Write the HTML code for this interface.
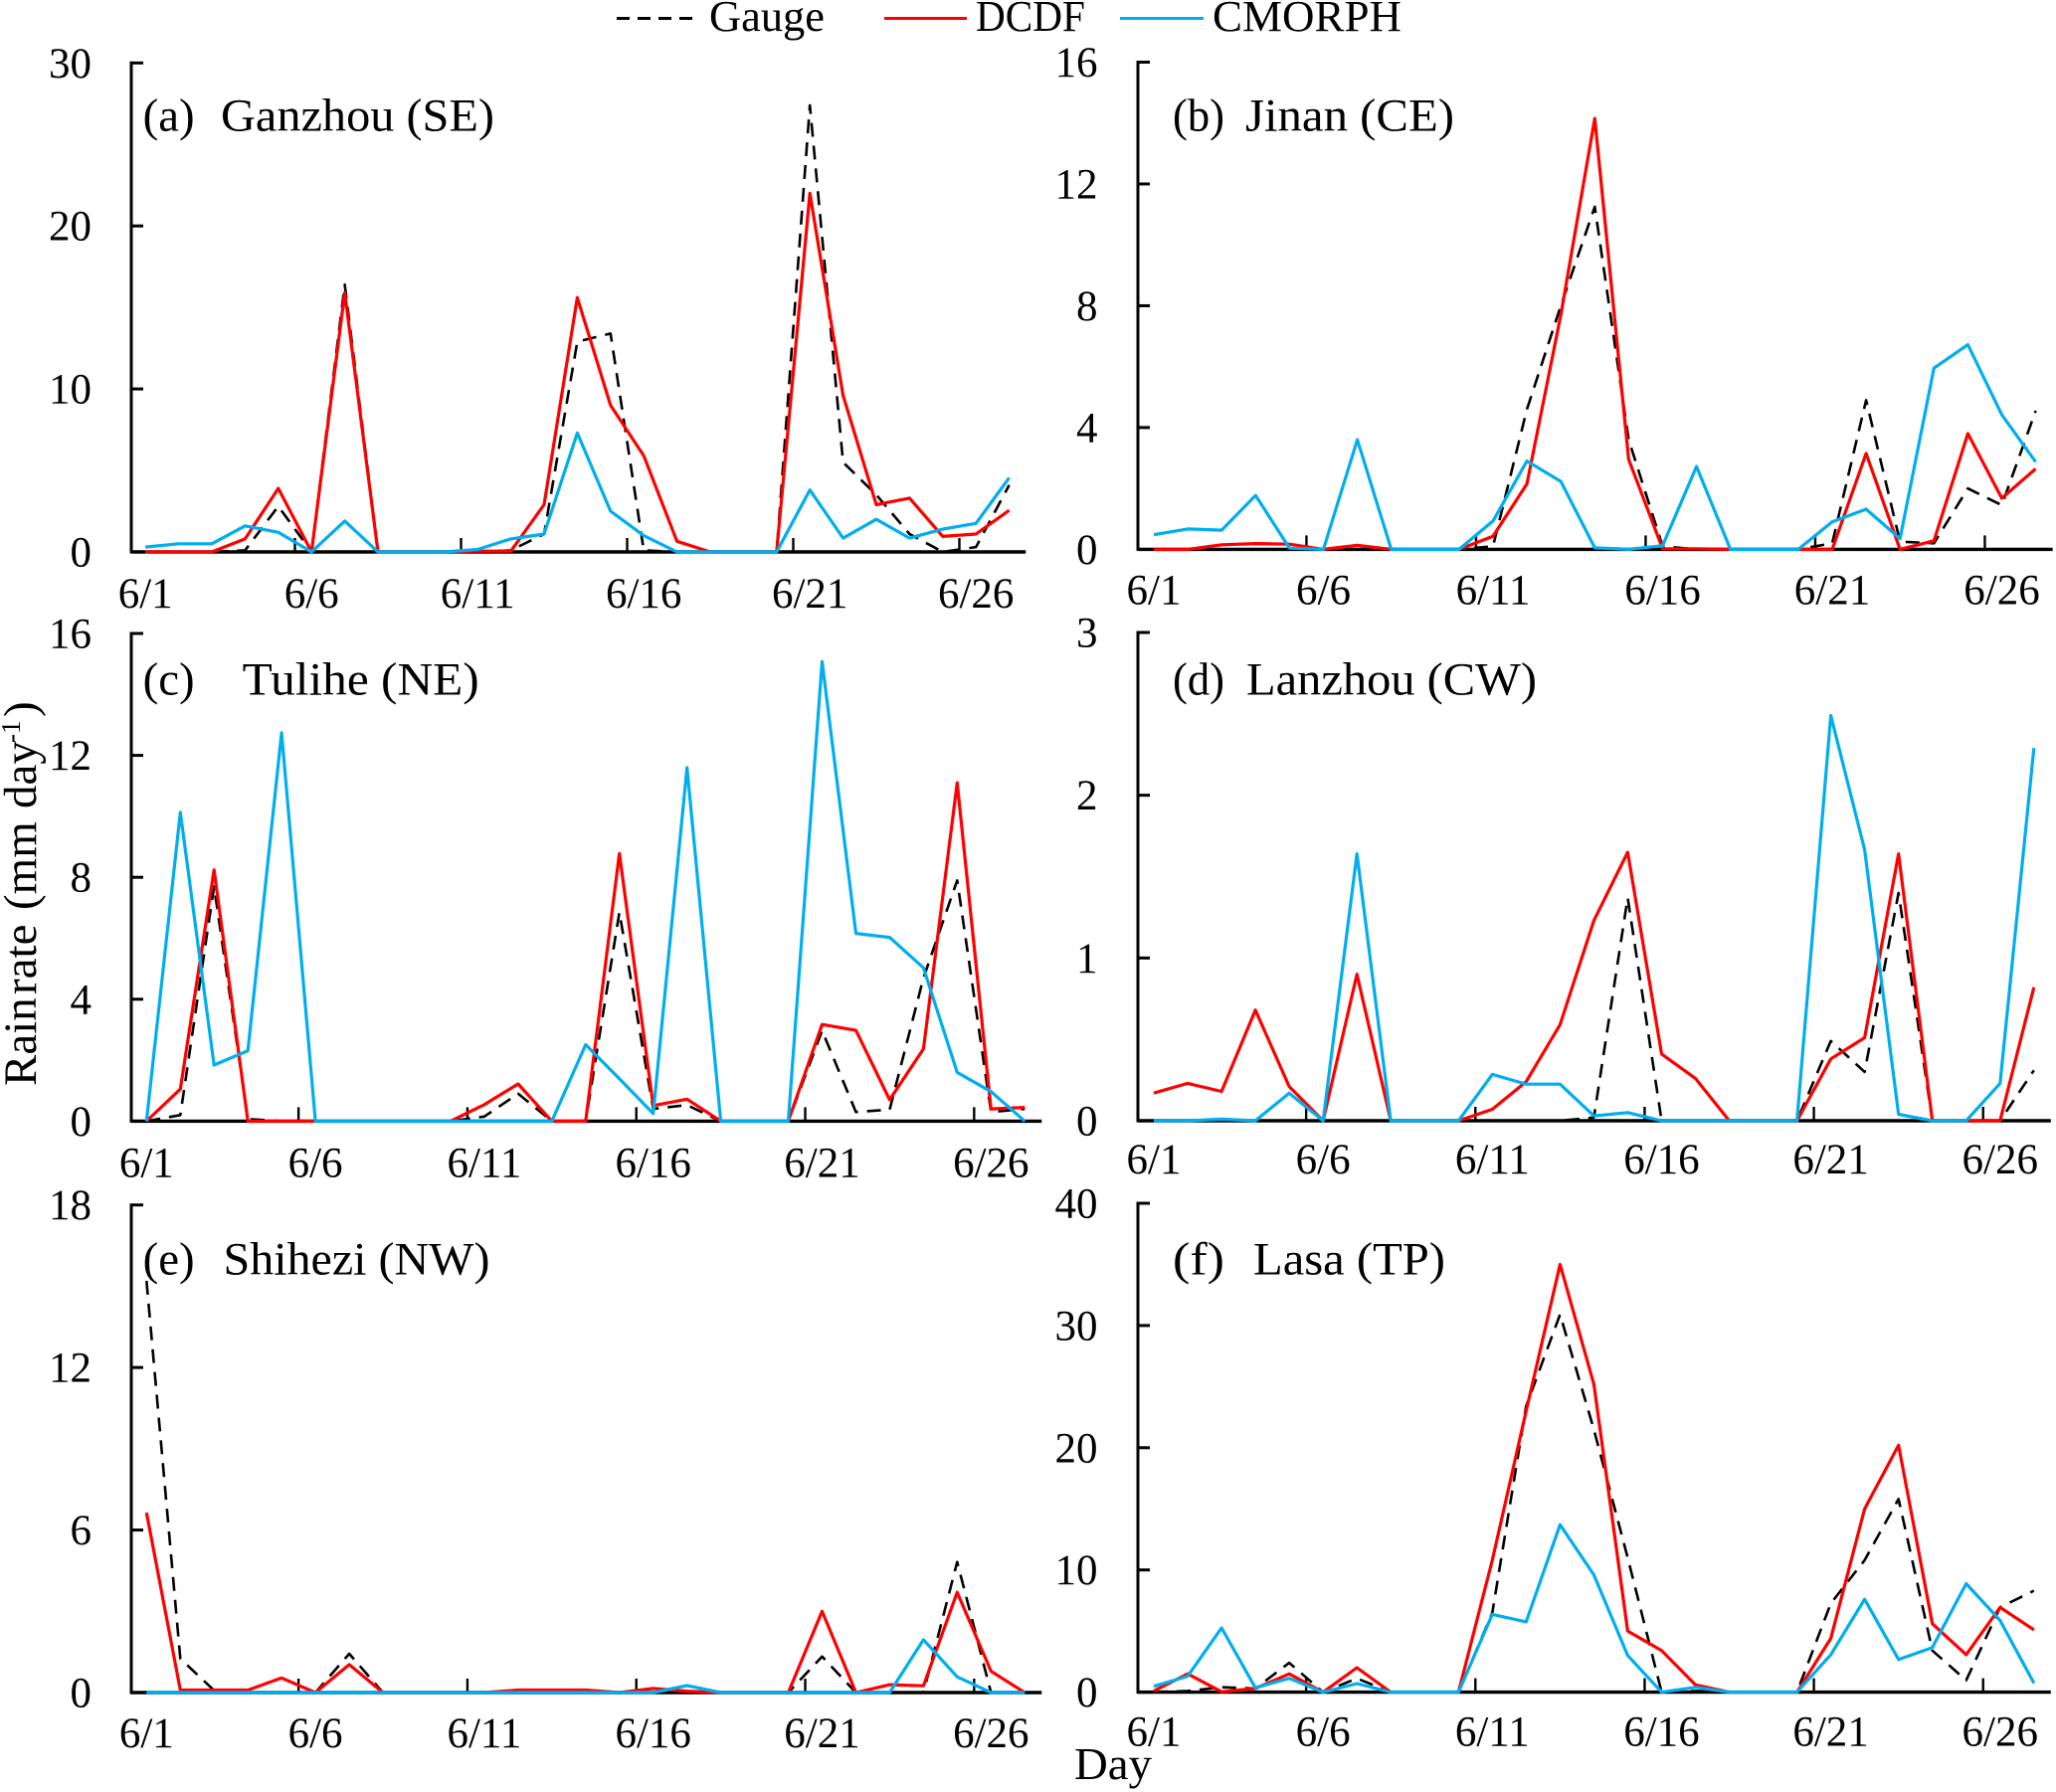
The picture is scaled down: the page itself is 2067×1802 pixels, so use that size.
<!DOCTYPE html>
<html lang="en">
<head>
<meta charset="utf-8">
<title>Daily rain rate at six stations</title>
<style>
  html, body { margin: 0; padding: 0; background: #ffffff; }
  svg { display: block; }
  text { font-family: "Liberation Serif", "Times New Roman", serif; fill: #000000; }
</style>
</head>
<body>
<svg id="chart" xmlns="http://www.w3.org/2000/svg" width="2067" height="1802" viewBox="0 0 2067 1802">
  <rect x="0" y="0" width="2067" height="1802" fill="#ffffff"/>
  <g id="panels"></g>

  <g>
    <g>
      <line x1="620" y1="18.5" x2="697" y2="18.5" stroke="#000000" stroke-width="3" stroke-dasharray="13 8"/>
      <text x="713" y="31" font-size="44" textLength="116" lengthAdjust="spacingAndGlyphs">Gauge</text>
    </g>
    <g>
      <line x1="889" y1="18.5" x2="972" y2="18.5" stroke="#ff0000" stroke-width="3"/>
      <text x="981" y="31" font-size="44" textLength="110" lengthAdjust="spacingAndGlyphs">DCDF</text>
    </g>
    <g>
      <line x1="1126" y1="18.5" x2="1210" y2="18.5" stroke="#00aeef" stroke-width="3"/>
      <text x="1219" y="31" font-size="44" textLength="190" lengthAdjust="spacingAndGlyphs">CMORPH</text>
    </g>
  </g>

  <g>
    <text transform="translate(36 1092) rotate(-90)" font-size="47"><tspan x="0">Rain </tspan><tspan x="92">rate </tspan><tspan x="177">(mm </tspan><tspan x="279">day</tspan></text>
    <text transform="translate(20 747) rotate(-90)" font-size="27">-1</text>
    <text transform="translate(36 721) rotate(-90)" font-size="47">)</text>
  </g>
  <text x="1080" y="1789" font-size="46" textLength="78" lengthAdjust="spacingAndGlyphs">Day</text>
</svg>

<script>
// Shared category and tick data
const days = ['6/1','6/2','6/3','6/4','6/5','6/6','6/7','6/8','6/9','6/10','6/11','6/12','6/13','6/14','6/15','6/16','6/17','6/18','6/19','6/20','6/21','6/22','6/23','6/24','6/25','6/26','6/27'];
const xTickLabels = ['6/1','6/6','6/11','6/16','6/21','6/26'];

// (a) Ganzhou
const ticksA = [0,10,20,30];
const gaugeA = [0,0,0,0.1,2.8,0,16.4,0,0,0,0,0.1,1.1,12.9,13.4,0.1,0,0,0,0,27.4,5.5,3.5,1.1,0,0.3,4.1];
const dcdfA = [0,0,0,0.8,3.9,0,15.9,0,0,0,0.05,0.05,2.9,15.6,9.0,5.9,0.65,0,0,0,22,9.6,2.9,3.3,0.95,1.1,2.55];
const cmorphA = [0.3,0.5,0.5,1.6,1.2,0,1.9,0,0,0,0.15,0.8,1.1,7.3,2.5,1.0,0,0,0,0,3.8,0.85,2.0,0.85,1.4,1.75,4.55];

// (b) Jinan
const ticksB = [0,4,8,12,16];
const gaugeB = [0,0,0,0,0,0,0,0,0,0,0.1,4.6,8.0,11.25,3.6,0.1,0,0,0,0,0.2,4.9,0.25,0.2,2.0,1.45,4.55];
const dcdfB = [0,0,0.15,0.19,0.17,0,0.13,0,0,0,0.43,2.15,7.7,14.15,2.95,0.02,0.02,0,0,0,0,3.15,0,0.28,3.8,1.68,2.65];
const cmorphB = [0.48,0.67,0.63,1.77,0.04,0,3.6,0,0,0,0.93,2.9,2.23,0.05,0,0.12,2.72,0,0,0,0.9,1.32,0.35,5.95,6.72,4.42,2.87];

// (c) Tulihe
const ticksC = [0,4,8,12,16];
const gaugeC = [0,0.2,7.7,0.07,0,0,0,0,0,0,0.15,0.9,0,0,6.85,0.4,0.53,0,0,0,2.97,0.3,0.38,4.7,7.9,0.3,0.4];
const dcdfC = [0,1.05,8.24,0,0,0,0,0,0,0,0.54,1.22,0,0,8.78,0.51,0.72,0,0,0,3.17,2.98,0.7,2.37,11.1,0.4,0.45];
const cmorphC = [0,10.13,1.84,2.31,12.74,0,0,0,0,0,0,0,0,2.51,1.39,0.25,11.6,0,0,0,15.08,6.16,6.03,5.03,1.6,0.97,0];

// (d) Lanzhou
const ticksD = [0,1,2,3];
const gaugeD = [0,0,0,0,0,0,0,0,0,0,0,0,0,0.02,1.37,0,0,0,0,0,0.49,0.3,1.4,0,0,0,0.31];
const dcdfD = [0.17,0.23,0.18,0.68,0.21,0,0.9,0,0,0,0.07,0.24,0.59,1.23,1.65,0.41,0.26,0,0,0,0.38,0.51,1.64,0,0,0,0.82];
const cmorphD = [0,0,0.01,0,0.17,0,1.64,0,0,0,0.285,0.225,0.225,0.03,0.05,0,0,0,0,0,2.49,1.665,0.04,0,0,0.23,2.29];

// (e) Shihezi
const ticksE = [0,6,12,18];
const gaugeE = [15.2,1.25,0.08,0,0,0,1.43,0,0,0,0,0,0,0,0,0,0,0,0,0,1.33,0,0,0,4.82,0,0];
const dcdfE = [6.64,0.09,0.09,0.09,0.54,0,1.03,0,0,0,0,0.09,0.09,0.09,0,0.15,0.05,0,0,0,3.0,0,0.29,0.25,3.7,0.79,0];
const cmorphE = [0,0,0,0,0,0,0,0,0,0,0,0,0,0,0,0,0.26,0,0,0,0,0,0,1.95,0.58,0,0];

// (f) Lasa
const ticksF = [0,10,20,30,40];
const gaugeF = [0,0.1,0.4,0.3,2.4,0,1.13,0,0,0,6.5,23.4,30.9,21.5,11,0,0.1,0,0,0,7.26,10.8,15.8,3.4,0.97,6.94,8.3];
const dcdfF = [0.1,1.5,0.03,0.3,1.5,0,2.0,0,0,0,10.8,23,35,25.2,5,3.4,0.6,0,0,0,4.4,15,20.2,5.6,3.07,6.94,5.1];
const cmorphF = [0.48,1.3,5.26,0.36,1.13,0,0.7,0,0,0,6.36,5.75,13.7,9.6,3.0,0,0.4,0,0,0,3.07,7.6,2.68,3.65,8.88,5.87,0.74];

const NS = 'http://www.w3.org/2000/svg';
const root = document.getElementById('panels');

function makeEl(tag, parent, attrs) {
  const el = document.createElementNS(NS, tag);
  for (const k in attrs) el.setAttribute(k, attrs[k]);
  parent.appendChild(el);
  return el;
}

function drawPanel(cfg) {
  const group = makeEl('g', root, {});
  
  

  const yMax = cfg.ticks[cfg.ticks.length - 1];
  const xScale = function (i) { return cfg.x0 + cfg.dx * i; };
  const yScale = function (v) { return cfg.yZero - (cfg.yZero - cfg.yTop) * v / yMax; };

  // y axis
  const yAxis = makeEl('line', group, { x1: cfg.spine, y1: cfg.yTop - 1.5, x2: cfg.spine, y2: cfg.yZero + 1.5, stroke: '#000', 'stroke-width': 3 });
  
  

  cfg.ticks.forEach(function (t) {
    const y = yScale(t);
    const mark = makeEl('line', group, { x1: cfg.spine, y1: y, x2: cfg.spine + 12, y2: y, stroke: '#000', 'stroke-width': 3 });
    
    
    const label = makeEl('text', group, { x: cfg.yLabelX, y: y + 14.5, 'font-size': 43, 'text-anchor': 'end' });
    
    
    label.textContent = String(t);
  });

  // x axis
  const xAxis = makeEl('line', group, { x1: cfg.spine, y1: cfg.yZero, x2: xScale(days.length - 0.5), y2: cfg.yZero, stroke: '#000', 'stroke-width': 3.4 });
  
  

  xTickLabels.forEach(function (lab) {
    const i = days.indexOf(lab);
    if (i > 0) {
      const mark = makeEl('line', group, { x1: xScale(i - 0.5), y1: cfg.yZero, x2: xScale(i - 0.5), y2: cfg.yZero - 14, stroke: '#000', 'stroke-width': 2.4 });
      
      
    }
    const label = makeEl('text', group, { x: xScale(i), y: cfg.yZero + cfg.xLabelDy, 'font-size': 43, 'text-anchor': 'middle' });
    
    
    label.textContent = lab;
  });

  // series
  function series(values, color, width, dash, name) {
    const points = values.map(function (v, i) { return xScale(i).toFixed(1) + ',' + yScale(v).toFixed(1); }).join(' ');
    const attrs = { points: points, fill: 'none', stroke: color, 'stroke-width': width, 'stroke-linejoin': 'round', 'stroke-linecap': 'butt' };
    if (dash) attrs['stroke-dasharray'] = dash;
    const line = makeEl('polyline', group, attrs);
    
    
  }
  series(cfg.gauge, '#000000', 2.6, '14 9', 'gauge');
  series(cfg.dcdf, '#ff0000', 3.2, '', 'dcdf');
  series(cfg.cmorph, '#00aeef', 3.2, '', 'cmorph');

  // panel title
  const tagEl = makeEl('text', group, { x: cfg.tagX, y: cfg.titleY, 'font-size': 47, textLength: 52, lengthAdjust: 'spacingAndGlyphs' });
  
  
  tagEl.textContent = cfg.tag;
  const nameEl = makeEl('text', group, { x: cfg.nameX, y: cfg.titleY, 'font-size': 47, textLength: cfg.nameW, lengthAdjust: 'spacingAndGlyphs' });
  
  
  nameEl.textContent = cfg.title;
}

drawPanel({ key: 'a', tag: '(a)', title: 'Ganzhou (SE)', ticks: ticksA, gauge: gaugeA, dcdf: dcdfA, cmorph: cmorphA,
  spine: 132, x0: 146.2, dx: 33.4, yTop: 63.3, yZero: 555, yLabelX: 92, xLabelDy: 56, tagX: 143.6, nameX: 222, nameW: 275, titleY: 131.7 });
drawPanel({ key: 'b', tag: '(b)', title: 'Jinan (CE)', ticks: ticksB, gauge: gaugeB, dcdf: dcdfB, cmorph: cmorphB,
  spine: 1144, x0: 1160, dx: 34.1, yTop: 62.5, yZero: 552.4, yLabelX: 1103.5, xLabelDy: 55, tagX: 1179, nameX: 1252, nameW: 210, titleY: 131.7 });
drawPanel({ key: 'c', tag: '(c)', title: 'Tulihe (NE)', ticks: ticksC, gauge: gaugeC, dcdf: dcdfC, cmorph: cmorphC,
  spine: 132, x0: 147.3, dx: 33.96, yTop: 637, yZero: 1127.4, yLabelX: 92, xLabelDy: 56, tagX: 143.6, nameX: 243.7, nameW: 238, titleY: 698.7 });
drawPanel({ key: 'd', tag: '(d)', title: 'Lanzhou (CW)', ticks: ticksD, gauge: gaugeD, dcdf: dcdfD, cmorph: cmorphD,
  spine: 1144, x0: 1160, dx: 34.03, yTop: 636, yZero: 1127, yLabelX: 1103.5, xLabelDy: 53, tagX: 1179, nameX: 1253, nameW: 292, titleY: 698.7 });
drawPanel({ key: 'e', tag: '(e)', title: 'Shihezi (NW)', ticks: ticksE, gauge: gaugeE, dcdf: dcdfE, cmorph: cmorphE,
  spine: 132, x0: 147.3, dx: 33.96, yTop: 1211.7, yZero: 1702, yLabelX: 92, xLabelDy: 55, tagX: 143.6, nameX: 224.5, nameW: 268, titleY: 1281.5 });
drawPanel({ key: 'f', tag: '(f)', title: 'Lasa (TP)', ticks: ticksF, gauge: gaugeF, dcdf: dcdfF, cmorph: cmorphF,
  spine: 1144, x0: 1160, dx: 34.03, yTop: 1210, yZero: 1701.6, yLabelX: 1103.5, xLabelDy: 54, tagX: 1179, nameX: 1260, nameW: 193, titleY: 1281.5 });
</script>
</body>
</html>
